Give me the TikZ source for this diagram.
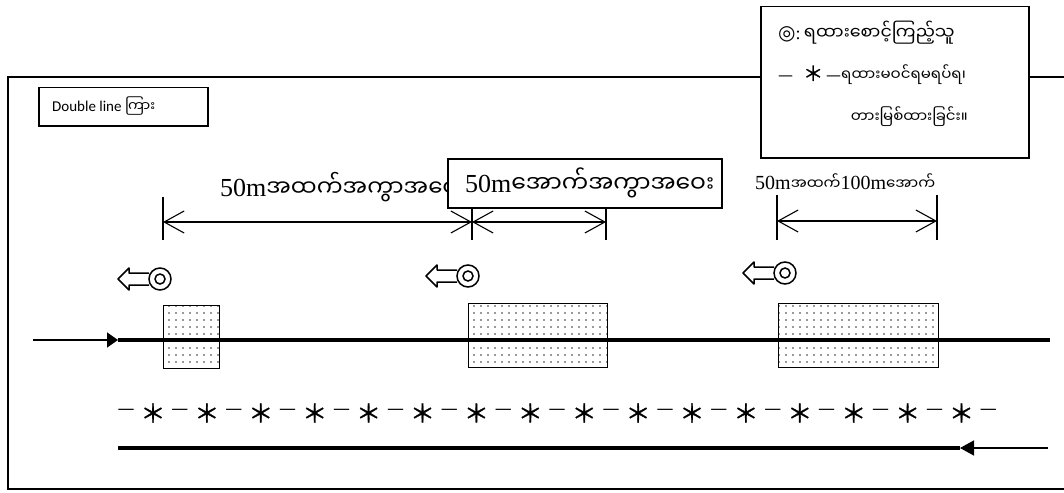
\documentclass[tikz,border=0pt]{standalone}
\usepackage{fontspec}
\setmainfont{Liberation Serif}
\newfontfamily\mya[Script=Myanmar]{Noto Sans Myanmar UI}
\newfontfamily\symf{DejaVu Sans}
\newfontfamily\cjkf[FakeBold=1.2]{Noto Sans CJK JP}
\newfontfamily\calf{Carlito}
\usetikzlibrary{arrows.meta,patterns.meta}
\tikzset{
  frame/.style={line width=1.5pt},
  tickline/.style={line width=1.4pt},
  dimline/.style={line width=1.1pt,
    {Straight Barb[length=20pt,width=22pt,line width=1.1pt]}-{Straight Barb[length=20pt,width=22pt,line width=1.1pt]}},
  zone/.style={draw, line width=1.4pt, pattern={Dots[distance=6.5pt,radius=0.95pt]}, pattern color=black!80},
  track/.style={line width=4pt},
  thintrack/.style={line width=1.6pt},
  label/.style={inner sep=0pt, anchor=west},
  box/.style={draw, line width=1.5pt, fill=white, inner sep=0pt},
  dashsym/.style={inner sep=0pt, font=\symf\fontsize{17}{17}\selectfont},
  starsym/.style={inner sep=0pt, font=\cjkf\fontsize{25}{25}\selectfont},
  signal/.pic={
    \draw[line width=1.5pt] (0,0) circle (11pt);
    \draw[line width=1.5pt] (0,0) circle (5pt);
    \draw[line width=1.5pt, line join=round] (-11,-6) -- (-31,-6) -- (-31,-11) -- (-42,0) -- (-31,11) -- (-31,6) -- (-11,6);
  }
}
\begin{document}
\begin{tikzpicture}[x=1pt,y=-1pt]
\useasboundingbox (0,0) rectangle (1064,492);
% outer frame
\coordinate (fTL) at (8,77);
\coordinate (fBL) at (8,489);
\coordinate (fBR) at (1064,489);
\coordinate (fTR) at (1064,77);
\coordinate (lgL) at (760,77);
\coordinate (lgR) at (1028,77);
\draw[frame] (lgL) -- (fTL) -- (fBL) -- (fBR);
\draw[frame] (lgR) -- (fTR);

% legend box
\node[box, minimum width=268pt, minimum height=151pt, anchor=north west] (legend) at (760,6) {};
\node[label] (lg1) at (778,33) {{\symf\fontsize{20}{20}\selectfont ◎}{\fontsize{18}{18}\selectfont :} {\mya\fontsize{17.5}{17.5}\selectfont ရထားစောင့်ကြည့်သူ}};
\node[label] (lg2) at (778,75) {{\symf\fontsize{15}{15}\selectfont —}\hspace{10pt}{\cjkf\fontsize{20}{20}\selectfont ＊}\hspace{3pt}{\symf\fontsize{15}{15}\selectfont —}{\mya\fontsize{15}{15}\selectfont ရထားမဝင်ရမရပ်ရ၊}};
\node[inner sep=0pt, anchor=east] (lg3) at (968,117) {\mya\fontsize{15}{15}\selectfont တားမြစ်ထားခြင်း။};

% double line box
\node[box, minimum width=169pt, minimum height=38pt, anchor=north west] (dbl) at (38,87) {};
\node[label] (dbltext) at (52,106) {{\calf\fontsize{15}{15}\selectfont Double line }{\mya\fontsize{14}{14}\selectfont ကြား}};

% dimension 1
\node[label] (lab1) at (220,187) {{\fontsize{26}{26}\selectfont 50m}{\mya\fontsize{23}{23}\selectfont အထက်အကွာအဝေး}};
\coordinate (k1t) at (163,197); \coordinate (k1b) at (163,240);
\coordinate (k2t) at (472,200); \coordinate (k2b) at (472,240);
\coordinate (k3t) at (606,208); \coordinate (k3b) at (606,240);
\draw[tickline] (k1t) -- (k1b);
\draw[tickline] (k2t) -- (k2b);
\draw[tickline] (k3t) -- (k3b);
\coordinate (d1a) at (163,222); \coordinate (d1b) at (472,222);
\coordinate (d2a) at (472,222); \coordinate (d2b) at (606,222);
\draw[dimline] (d1a) -- (d1b);
\draw[dimline] (d2a) -- (d2b);
% box label 2
\node[box, minimum width=274pt, minimum height=49pt, anchor=north west] (lab2box) at (447,158) {};
\node[label] (lab2) at (465,183) {{\fontsize{26}{26}\selectfont 50m}{\mya\fontsize{23.5}{23.5}\selectfont အောက်အကွာအဝေး}};

% dimension 3
\node[label] (lab3) at (755,182) {{\fontsize{20}{20}\selectfont 50m}{\mya\fontsize{15}{15}\selectfont အထက်}{\fontsize{20}{20}\selectfont 100m}{\mya\fontsize{15}{15}\selectfont အောက်}};
\coordinate (k4t) at (777,195); \coordinate (k4b) at (777,240);
\coordinate (k5t) at (937,195); \coordinate (k5b) at (937,240);
\draw[tickline] (k4t) -- (k4b);
\draw[tickline] (k5t) -- (k5b);
\coordinate (d3a) at (777,221); \coordinate (d3b) at (937,221);
\draw[dimline] (d3a) -- (d3b);

% signals
\pic at (160,279) {signal};
\pic at (468,276) {signal};
\pic at (785,273) {signal};

% zones
\node[zone, minimum width=56pt, minimum height=63pt, anchor=north west] (z1) at (163,305) {};
\node[zone, minimum width=139pt, minimum height=64pt, anchor=north west] (z2) at (468,303) {};
\node[zone, minimum width=160pt, minimum height=64pt, anchor=north west] (z3) at (778,303) {};

% upper track
\coordinate (uA) at (33,340);
\coordinate (uB) at (118,340);
\coordinate (uC) at (1050,340);
\draw[thintrack, -{Triangle[length=11pt,width=15pt]}] (uA) -- (uB);
\draw[track] (uB) -- (uC);

% dash-star line
\foreach \i in {0,...,16} {
  \node[dashsym] (d\i) at (126+\i*53.9,412) {—};
}
\foreach \i in {0,...,15} {
  \node[starsym] (s\i) at (153+\i*53.9,413) {＊};
}

% lower track
\coordinate (lA) at (118,448);
\coordinate (lB) at (960,448);
\coordinate (lC) at (1048,448);
\draw[track] (lA) -- (lB);
\draw[thintrack, -{Triangle[length=14pt,width=15pt]}] (lC) -- (lB);
\end{tikzpicture}
\end{document}
